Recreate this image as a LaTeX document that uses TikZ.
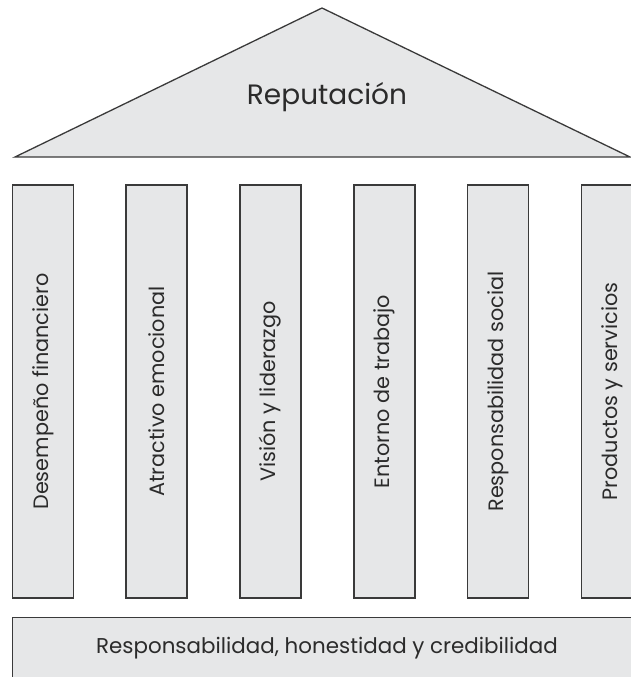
\documentclass[tikz,border=0pt]{standalone}
\usepackage{fontspec}
\setmainfont{Poppins}
\definecolor{fillgray}{HTML}{E6E7E8}
\definecolor{linegray}{HTML}{3A3A3A}
\definecolor{textgray}{HTML}{2B2B2B}
\tikzset{
  part/.style={draw=linegray, line width=1.3pt, fill=fillgray},
  pillar/.style={part, rectangle, rotate=90, minimum width=413pt, minimum height=61pt, inner sep=0pt,
    text=textgray, font=\fontsize{20.8}{24}\selectfont},
  basebox/.style={part, rectangle, minimum width=640pt, minimum height=80pt, inner sep=0pt, anchor=north west},
  lbl/.style={text=textgray, inner sep=0pt}
}
\begin{document}
\begin{tikzpicture}[x=1pt,y=-1pt]
\useasboundingbox (0,0) rectangle (631,677);
\clip (0,0) rectangle (631,677);
\fill[white] (0,0) rectangle (631,677);
% roof
\draw[part, line join=miter] (15,157) -- (322,8) -- (630,157) -- cycle;
\node[lbl, font=\fontsize{28}{32}\selectfont] (roof) at (327,97) {Reputación};
% pillars
\node[pillar] (p1) at (43,391.5) {Desempeño financiero};
\node[pillar] (p2) at (156.5,391.5) {Atractivo emocional};
\node[pillar] (p3) at (270.5,391.5) {Visión y liderazgo};
\node[pillar] (p4) at (384.5,391.5) {Entorno de trabajo};
\node[pillar] (p5) at (498,391.5) {Responsabilidad social};
\node[pillar] (p6) at (612,391.5) {Productos y servicios};
% base
\node[basebox] (base) at (12,617) {};
\node[lbl, font=\fontsize{21.4}{26}\selectfont] (basetext) at (327,648) {Responsabilidad, honestidad y credibilidad};
\end{tikzpicture}
\end{document}
